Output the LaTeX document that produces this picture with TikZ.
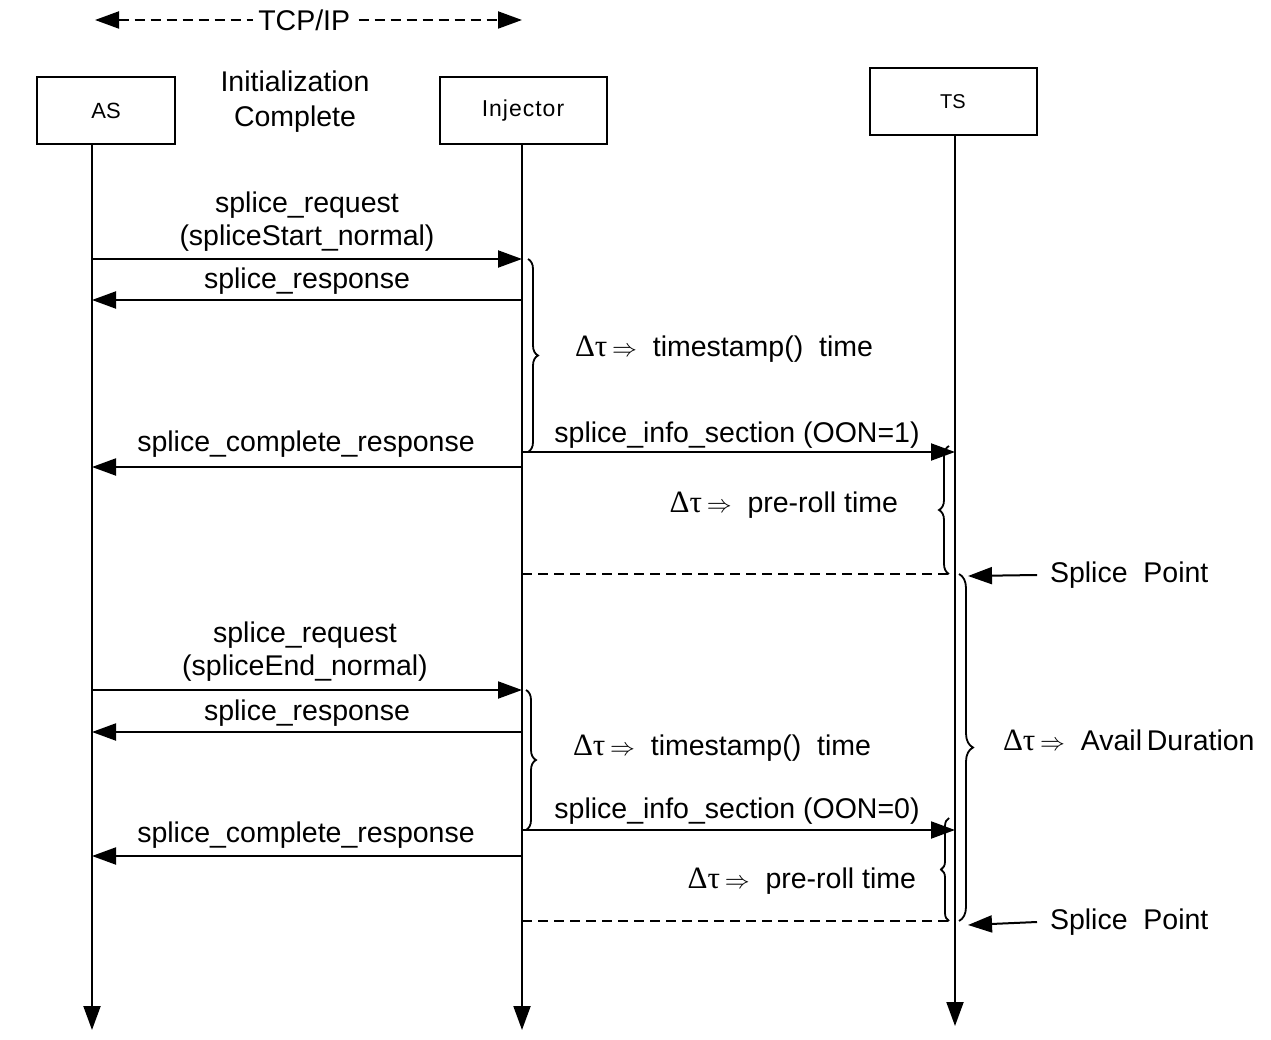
\documentclass[tikz,border=0pt]{standalone}
\usepackage{fontspec}
\setmainfont{Liberation Sans}
\newfontfamily\greekfont{Liberation Serif}
\newcommand{\dtau}{{\greekfont\fontsize{31}{33}\selectfont Δτ}\,{\fontsize{31}{33}\selectfont$\Rightarrow$}}
\usetikzlibrary{arrows.meta,decorations.pathreplacing}

\begin{document}
\begin{tikzpicture}[x=1pt, y=-1pt, line width=2pt,
        font=\fontsize{28.5}{33}\selectfont,
        >={Triangle[length=24pt,width=17pt]}]
      \tikzstyle{actor} = [draw, line width=2pt, minimum height=67pt, font=\fontsize{22}{26}\selectfont]
      \tikzstyle{msg} = [->]
      \tikzstyle{lbl} = [inner sep=0pt]
      \tikzstyle{dt} = [decorate, decoration={brace, amplitude=10pt}, line width=1.8pt]
      \useasboundingbox (0,0) rectangle (1271,1040);
      % actors and lifelines
      \node (AS) [actor, minimum width=138pt] at (106,111) {AS};
      \node (Inj) [actor, minimum width=167pt, font=\fontsize{23}{27}\selectfont] at (523,111) {I\kern1pt n\kern1pt j\kern1pt e\kern1pt c\kern1pt t\kern1pt o\kern1pt r};
      \node (TS) [actor, minimum width=167pt, font=\fontsize{20}{24}\selectfont] at (953,102) {TS};
      \coordinate (asTop) at (92,145);
      \coordinate (injTop) at (522,145);
      \coordinate (tsTop) at (955,136);
      \coordinate (asEnd) at (92,1030);
      \coordinate (injEnd) at (522,1030);
      \coordinate (tsEnd) at (955,1026);
      \draw[->] (asTop) -- (asEnd);
      \draw[->] (injTop) -- (injEnd);
      \draw[->] (tsTop) -- (tsEnd);
      % TCP/IP
      \coordinate (tcpL) at (95,20);
      \coordinate (tcpR) at (522,20);
      \draw[<->, dash pattern=on 10pt off 6pt] (tcpL) -- node (tcp) [fill=white, inner sep=5pt, pos=0.49] {TCP/IP} (tcpR);
      \node (init) [align=center, font=\fontsize{28.5}{35}\selectfont] at (295,102) {Initialization\\Complete};
      % message rows
      \coordinate (m1) at (0,259);
      \coordinate (m2) at (0,300);
      \coordinate (m3) at (0,452);
      \coordinate (m4) at (0,467);
      \coordinate (m5) at (0,574);
      \coordinate (m6) at (0,690);
      \coordinate (m7) at (0,732);
      \coordinate (m8) at (0,830);
      \coordinate (m9) at (0,856);
      \coordinate (m10) at (0,921);
      % first splice
      \draw[msg] (asTop |- m1) -- (injTop |- m1);
      \node (req1) [align=center] at (307,222) {splice\_request\\(spliceStart\_normal)};
      \draw[msg] (injTop |- m2) -- (asTop |- m2);
      \node (resp1) [lbl] at (307,281) {splice\_response};
      \draw[msg] (injTop |- m4) -- (asTop |- m4);
      \node (comp1) [lbl] at (306,444) {splice\_complete\_response};
      \draw[msg] (injTop |- m3) -- (tsTop |- m3);
      \node (info1) [lbl] at (737,435) {splice\_info\_section (OON=1)};
      \draw[dt] ([xshift=6pt]injTop |- m1) -- ([xshift=6pt]injTop |- m3);
      \node (ts1) [lbl, anchor=west] at (574,349) {\dtau\ \ timestamp()\ \ time};
      \draw[dt] ([xshift=-6pt]tsTop |- m5) -- ([xshift=-6pt,yshift=6pt]tsTop |- m3);
      \node (pre1) [lbl, anchor=east] at (899,505) {\dtau\ \ pre-roll time};
      \draw[dash pattern=on 10pt off 6pt] (injTop |- m5) -- (tsTop |- m5);
      \coordinate (sp1tip) at (968,576);
      \node (sp1) [lbl, anchor=west] at (1049,575) {Splice\ \ Point};
      \draw[msg] ([xshift=-12pt]sp1.west) -- (sp1tip);
      % avail duration
      \draw[dt, decoration={amplitude=14pt}] ([xshift=4pt]tsTop |- m5) -- ([xshift=4pt]tsTop |- m10);
      \node (avail) [lbl, anchor=west] at (1002,740) {\dtau\ \ Avail\,Duration};
      % second splice
      \draw[msg] (asTop |- m6) -- (injTop |- m6);
      \node (req2) [align=center] at (305,652) {splice\_request\\(spliceEnd\_normal)};
      \draw[msg] (injTop |- m7) -- (asTop |- m7);
      \node (resp2) [lbl] at (307,713) {splice\_response};
      \draw[msg] (injTop |- m9) -- (asTop |- m9);
      \node (comp2) [lbl] at (306,835) {splice\_complete\_response};
      \draw[msg] (injTop |- m8) -- (tsTop |- m8);
      \node (info2) [lbl] at (737,811) {splice\_info\_section (OON=0)};
      \draw[dt] ([xshift=4pt]injTop |- m6) -- ([xshift=4pt]injTop |- m8);
      \node (ts2) [lbl, anchor=west] at (572,748) {\dtau\ \ timestamp()\ \ time};
      \draw[dt, decoration={amplitude=8pt}] ([xshift=-6pt]tsTop |- m10) -- ([xshift=-6pt,yshift=12pt]tsTop |- m8);
      \node (pre2) [lbl, anchor=east] at (917,881) {\dtau\ \ pre-roll time};
      \draw[dash pattern=on 10pt off 6pt] (injTop |- m10) -- (tsTop |- m10);
      \coordinate (sp2tip) at (968,925);
      \node (sp2) [lbl, anchor=west] at (1049,922) {Splice\ \ Point};
      \draw[msg] ([xshift=-12pt]sp2.west) -- (sp2tip);
    \end{tikzpicture}
\end{document}
